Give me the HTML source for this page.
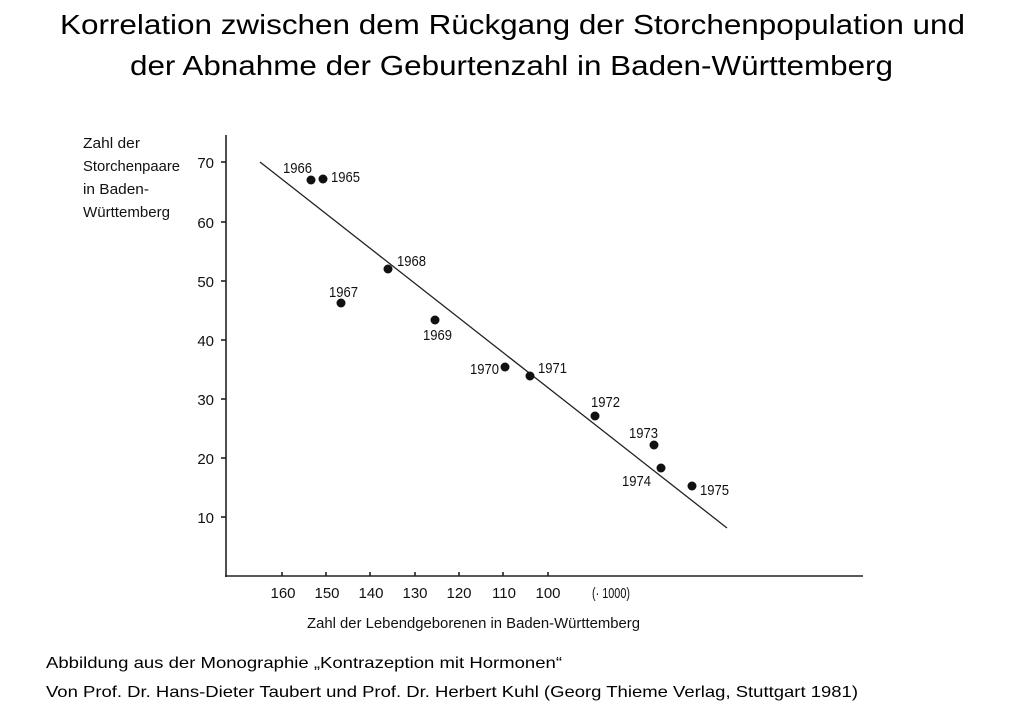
<!DOCTYPE html>
<html><head><meta charset="utf-8"><style>
body{margin:0;background:#fff;width:1024px;height:709px;overflow:hidden}
</style></head><body>
<svg style="position:absolute;left:0;top:0" width="1024" height="709" font-family="Liberation Sans, sans-serif" font-size="15" fill="#111">
<g font-size="28" fill="#000" lengthAdjust="spacingAndGlyphs">
<text x="60" y="34" textLength="905" lengthAdjust="spacingAndGlyphs">Korrelation zwischen dem Rückgang der Storchenpopulation und</text>
<text x="130" y="75" textLength="763" lengthAdjust="spacingAndGlyphs">der Abnahme der Geburtenzahl in Baden-Württemberg</text>
</g>
<g font-size="16" fill="#000">
<text x="46" y="668" textLength="516" lengthAdjust="spacingAndGlyphs">Abbildung aus der Monographie „Kontrazeption mit Hormonen“</text>
<text x="46" y="697" textLength="812" lengthAdjust="spacingAndGlyphs">Von Prof. Dr. Hans-Dieter Taubert und Prof. Dr. Herbert Kuhl (Georg Thieme Verlag, Stuttgart 1981)</text>
</g>
<g stroke="#222" stroke-width="1.6">
<line x1="226" y1="135" x2="226" y2="577"/>
<line x1="225" y1="576" x2="863" y2="576"/>
<line x1="221" y1="162" x2="226" y2="162"/><line x1="221" y1="222" x2="226" y2="222"/>
<line x1="221" y1="281" x2="226" y2="281"/><line x1="221" y1="340" x2="226" y2="340"/>
<line x1="221" y1="399" x2="226" y2="399"/><line x1="221" y1="458" x2="226" y2="458"/>
<line x1="221" y1="517" x2="226" y2="517"/>
<line x1="282" y1="572" x2="282" y2="576"/><line x1="326" y1="572" x2="326" y2="576"/>
<line x1="370" y1="572" x2="370" y2="576"/><line x1="415" y1="572" x2="415" y2="576"/>
<line x1="459" y1="572" x2="459" y2="576"/><line x1="503" y1="572" x2="503" y2="576"/>
<line x1="548" y1="572" x2="548" y2="576"/>
<line x1="260" y1="162" x2="727" y2="528" stroke-width="1.3"/>
</g>
<g text-anchor="end">
<text x="214" y="168">70</text><text x="214" y="228">60</text><text x="214" y="287">50</text>
<text x="214" y="346">40</text><text x="214" y="405">30</text><text x="214" y="464">20</text><text x="214" y="523">10</text>
</g>
<g text-anchor="middle">
<text x="283" y="598">160</text><text x="327" y="598">150</text><text x="371" y="598">140</text>
<text x="415" y="598">130</text><text x="459" y="598">120</text><text x="504" y="598">110</text>
<text x="548" y="598">100</text>
</g>
<text x="592" y="598" textLength="38" lengthAdjust="spacingAndGlyphs">(· 1000)</text>
<text x="307" y="628" textLength="333" lengthAdjust="spacingAndGlyphs">Zahl der Lebendgeborenen in Baden-Württemberg</text>
<text x="83" y="148" textLength="57" lengthAdjust="spacingAndGlyphs">Zahl der</text>
<text x="83" y="171" textLength="97" lengthAdjust="spacingAndGlyphs">Storchenpaare</text>
<text x="83" y="194" textLength="66" lengthAdjust="spacingAndGlyphs">in Baden-</text>
<text x="83" y="217" textLength="87" lengthAdjust="spacingAndGlyphs">Württemberg</text>
<g>
<circle cx="311" cy="180" r="4.5"/><circle cx="323" cy="179" r="4.5"/>
<circle cx="388" cy="269" r="4.5"/><circle cx="341" cy="303" r="4.5"/>
<circle cx="435" cy="320" r="4.5"/><circle cx="505" cy="367" r="4.5"/>
<circle cx="530" cy="376" r="4.5"/><circle cx="595" cy="416" r="4.5"/>
<circle cx="654" cy="445" r="4.5"/><circle cx="661" cy="468" r="4.5"/>
<circle cx="692" cy="486" r="4.5"/>
</g>
<g lengthAdjust="spacingAndGlyphs">
<text x="283" y="173" textLength="29" lengthAdjust="spacingAndGlyphs">1966</text>
<text x="331" y="182" textLength="29" lengthAdjust="spacingAndGlyphs">1965</text>
<text x="397" y="266" textLength="29" lengthAdjust="spacingAndGlyphs">1968</text>
<text x="329" y="297" textLength="29" lengthAdjust="spacingAndGlyphs">1967</text>
<text x="423" y="340" textLength="29" lengthAdjust="spacingAndGlyphs">1969</text>
<text x="470" y="374" textLength="29" lengthAdjust="spacingAndGlyphs">1970</text>
<text x="538" y="373" textLength="29" lengthAdjust="spacingAndGlyphs">1971</text>
<text x="591" y="407" textLength="29" lengthAdjust="spacingAndGlyphs">1972</text>
<text x="629" y="438" textLength="29" lengthAdjust="spacingAndGlyphs">1973</text>
<text x="622" y="486" textLength="29" lengthAdjust="spacingAndGlyphs">1974</text>
<text x="700" y="495" textLength="29" lengthAdjust="spacingAndGlyphs">1975</text>
</g>
</svg>
</body></html>
